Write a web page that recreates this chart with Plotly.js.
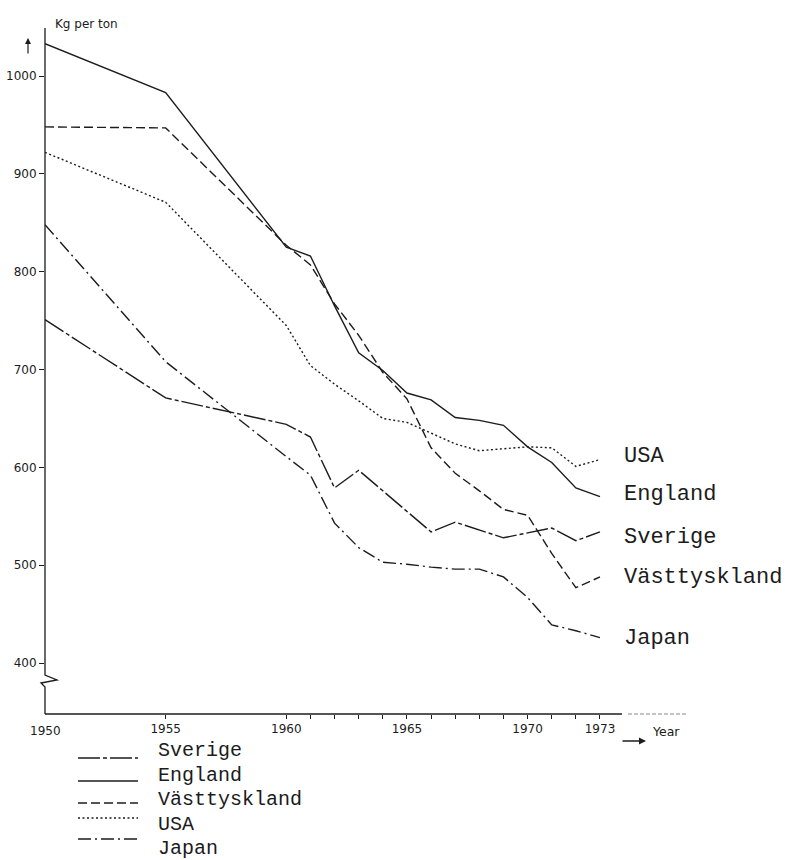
<!DOCTYPE html>
<html>
<head>
<meta charset="utf-8">
<script src="https://cdn.plot.ly/plotly-3.0.1.min.js"></script>
<style>
html,body{margin:0;padding:0;background:#fff;}
#chart{width:785px;height:860px;}
</style>
</head>
<body>
<div id="chart"></div>
<script>
// ---- data ----
const years = [1950,1955,1960,1961,1962,1963,1964,1965,1966,1967,1968,1969,1970,1971,1972,1973];
const sverige      = [751,671,644,631,579,597,576,555,534,544,536,528,533,538,525,534];
const england      = [1033,983,825,816,765,717,699,676,669,651,648,643,621,605,579,570];
const vasttyskland = [948,947,827,807,767,735,697,670,620,594,576,557,551,512,477,488];
const usa          = [922,871,745,704,685,668,650,646,635,624,617,619,621,620,601,608];
const japan        = [848,708,611,592,543,518,503,501,498,496,496,488,467,439,433,426];

const seriesNames = ["Sverige","England","Västtyskland","USA","Japan"];
const seriesData  = [sverige, england, vasttyskland, usa, japan];

const yTickVals  = [400,500,600,700,800,900,1000];
const yTickText  = ["400","500","600","700","800","900","1000"];
const xTickVals  = [1955,1960,1961,1962,1963,1964,1965,1966,1967,1968,1969,1970,1971,1972,1973];
const xTickText  = ["1955","1960","","","","","1965","","","","","1970","","","1973"];
const xLabelVals = [1950];
const yUnit = "Kg per ton";
const xUnit = "Year";

// ---- styles ----
const ink = "#1c1c1c";
const dashes = {
  "Sverige": "22px,3px,4px,3px",
  "England": "solid",
  "Västtyskland": "9px,4px",
  "USA": "2px,2.5px",
  "Japan": "13px,4px,2px,4px"
};

// pixel -> paper helpers (plot area: x 45..688, y 28..714)
const L = 45, R = 688, T = 28, B = 714;
const X = px => (px - L) / (R - L);
const Y = py => (B - py) / (B - T);

const traces = seriesNames.map((n, i) => ({
  type: "scatter", mode: "lines", name: n,
  x: years, y: seriesData[i],
  line: {color: ink, width: 1.4, dash: dashes[n]},
  showlegend: false, hoverinfo: "skip"
}));

const monoFont = {family: "Liberation Mono, DejaVu Sans Mono, monospace", size: 22, color: ink};
const legFont  = {family: "Liberation Mono, DejaVu Sans Mono, monospace", size: 20, color: ink};
const tickFont = {family: "DejaVu Sans, sans-serif", size: 12, color: ink};

// end labels
const endLabelY = {"USA": 456, "England": 494, "Sverige": 537, "Västtyskland": 577, "Japan": 638};
const annotations = [];
seriesNames.forEach(n => {
  annotations.push({xref: "paper", yref: "paper", x: X(622), y: Y(endLabelY[n]),
    xanchor: "left", yanchor: "middle", text: n, showarrow: false, font: monoFont});
});

// legend (drawn manually to match the reference layout)
const legTextY = [750, 774.5, 799, 823.5, 848];
const legLineY = [758, 781, 803, 818, 839];
const shapes = [];
seriesNames.forEach((n, i) => {
  annotations.push({xref: "paper", yref: "paper", x: X(156), y: Y(legTextY[i]),
    xanchor: "left", yanchor: "middle", height: 24, valign: "middle",
    text: n, showarrow: false, font: legFont});
  shapes.push({type: "line", xref: "paper", yref: "paper",
    x0: X(78), x1: X(138), y0: Y(legLineY[i]), y1: Y(legLineY[i]),
    line: {color: ink, width: 1.4, dash: dashes[n]}});
});

// axis titles
annotations.push({xref: "paper", yref: "paper", x: X(53), y: Y(15), text: yUnit,
  showarrow: false, font: {family: "DejaVu Sans, sans-serif", size: 12, color: ink}});
annotations.push({xref: "paper", yref: "paper", x: X(28), y: Y(38), ax: 0, ay: 17,
  text: "", showarrow: true, arrowhead: 2, arrowsize: 1, arrowwidth: 1.2, arrowcolor: ink});
annotations.push({xref: "paper", yref: "paper", x: X(650), y: Y(741), xanchor: "left",
  text: xUnit, showarrow: false, font: {family: "DejaVu Sans, sans-serif", size: 12.5, color: ink}});
annotations.push({xref: "paper", yref: "paper", x: X(646), y: Y(741), ax: -25, ay: 0,
  text: "", showarrow: true, arrowhead: 2, arrowsize: 1, arrowwidth: 1.4, arrowcolor: ink});
// 1950 label (at plot corner)
annotations.push({xref: "x", yref: "paper", x: xLabelVals[0], y: Y(722), yanchor: "top",
  text: String(xLabelVals[0]), showarrow: false, font: tickFont});

// y axis line with break zig-zag
shapes.push({type: "path", xref: "paper", yref: "paper",
  path: `M${X(45)},${Y(28)} L${X(45)},${Y(675)} L${X(57)},${Y(680)} L${X(41)},${Y(683)} L${X(45)},${Y(687)} L${X(45)},${Y(714)}`,
  line: {color: ink, width: 1.3}});
// x axis line
shapes.push({type: "line", xref: "paper", yref: "paper", x0: X(45), x1: X(622), y0: 0, y1: 0,
  line: {color: ink, width: 1.3}});
shapes.push({type: "line", xref: "paper", yref: "paper", x0: X(628), x1: X(688), y0: 0, y1: 0,
  line: {color: "#888", width: 1, dash: "4px,2px"}});

const layout = {
  width: 785, height: 860,
  margin: {l: L, r: 785 - R, t: T, b: 860 - B, pad: 0},
  paper_bgcolor: "#fff", plot_bgcolor: "#fff",
  showlegend: false,
  xaxis: {
    range: [1950, 1950 + (R - L) / 24.13],
    tickvals: xTickVals, ticktext: xTickText,
    ticks: "outside", ticklen: 4, tickwidth: 1, tickcolor: ink,
    showline: false, showgrid: false, zeroline: false,
    tickfont: tickFont, fixedrange: true
  },
  yaxis: {
    range: [347.9, 1049.1],
    tickvals: yTickVals, ticktext: yTickText,
    ticks: "outside", ticklen: 5, tickwidth: 1, tickcolor: ink,
    showline: false, showgrid: false, zeroline: false,
    tickfont: tickFont, fixedrange: true
  },
  annotations: annotations,
  shapes: shapes
};

Plotly.newPlot("chart", traces, layout, {displayModeBar: false, staticPlot: true});
</script>
</body>
</html>
